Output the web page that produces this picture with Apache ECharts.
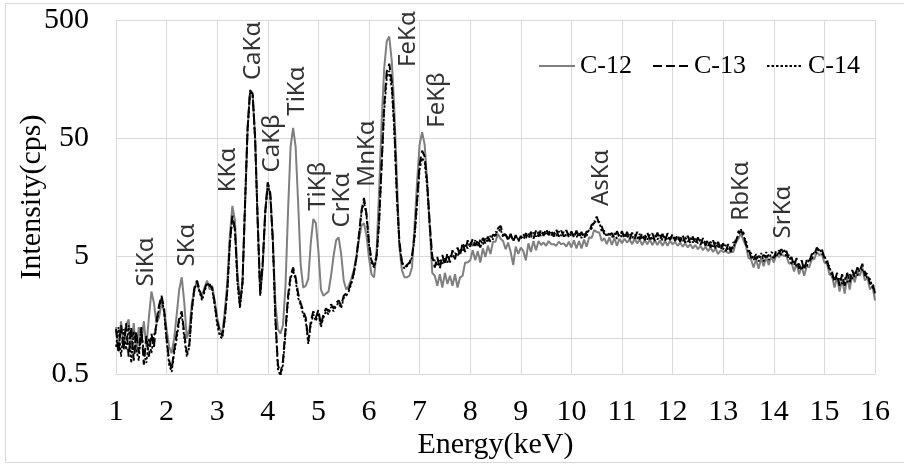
<!DOCTYPE html>
<html><head><meta charset="utf-8">
<script src="https://cdn.jsdelivr.net/npm/echarts@6/dist/echarts.min.js"></script>
<style>html,body{margin:0;padding:0;background:#fff}#c{width:904px;height:466px}</style>
</head><body><div id="c"></div>
<script>
// channel calibration: first channel energy and channel width (keV)
const E_START = 1.0, E_STEP = 0.05;

// Intensity (cps), one value per channel, 1.00 ... 16.00 keV (rows = 1 keV)
const c12 = [
1.25,0.8,1.4,0.85,1.3,1.45,0.8,1.35,0.75,1.25,0.9,1.4,0.85,1.5,2.5,2.0,1.35,1.5,2.0,1.7,
1.2,0.85,0.75,1.0,1.6,2.6,3.3,2.0,1.0,1.2,2.0,2.6,3.0,2.5,2.3,2.7,3.1,2.6,2.8,2.1,
1.5,1.2,1.1,1.7,3.0,7.5,13.3,10,3.6,2.0,3.0,13,58,128,120,50,10,2.4,4.0,12,
21,16,6.8,2.0,1.2,1.1,1.3,2.8,12,42,61,42,14,4.2,2.7,2.8,3.2,6.5,10.3,9.5,
5.5,2.6,2.3,2.4,2.5,3.4,5.0,6.8,7.2,5.2,3.1,2.6,2.8,3.2,3.8,5.0,6.8,9.0,9.5,7.5,
4.8,3.5,3.3,5.5,18,69,194,330,362,225,88,24,6,3.8,3.3,3.3,3.4,4.0,9,21,
44,56,44,21,9,3.6,3.4,2.8,3.5,2.7,3.6,2.9,3.4,2.8,3.5,2.7,3.3,3.4,4.4,4.4,
4.6,5.6,4.6,5.5,4.4,5.8,4.9,6.1,5.2,6.6,6.6,7.7,7.0,6.7,5.7,6.5,5.4,4.2,6.0,5.2,
5.9,5.5,4.6,6.4,5.4,6.7,5.6,6.7,6.2,6.5,6.1,6.7,6.3,6.3,6.1,6.6,6.3,6.4,6.0,6.6,
5.9,6.8,5.8,6.7,5.8,6.9,6.0,7.2,7.1,8.3,8.0,7.9,6.7,7.1,6.3,7.2,6.2,7.1,6.1,7.0,
6.4,7.0,6.5,6.9,6.3,7.0,6.4,6.9,6.2,6.8,6.3,6.9,6.2,6.8,6.2,6.8,6.1,6.7,6.1,6.7,
6.3,6.6,6.1,6.5,6.0,6.4,5.9,6.3,5.8,6.2,5.7,6.1,5.6,6.0,5.5,5.9,5.4,5.8,5.2,5.6,
5.4,5.5,5.3,5.4,5.4,6.5,7.0,7.7,6.8,6.1,4.8,4.7,4.0,4.7,3.9,4.8,4.1,4.9,4.2,5.0,
4.4,5.1,4.9,5.2,5.0,5.0,4.3,4.4,3.7,4.3,3.5,4.1,3.4,4.1,4.0,4.7,4.7,5.4,5.1,5.2,
4.4,4.3,3.5,3.4,2.7,3.3,2.5,3.2,2.4,3.3,2.6,3.5,3.0,3.7,3.4,4.0,3.1,3.3,2.6,2.8,
2.1];
const c13 = [
1.2,0.75,1.3,0.8,1.35,0.7,1.25,0.65,1.15,0.75,1.25,0.6,1.05,0.7,1.1,0.85,1.4,1.9,2.3,1.8,
1.0,0.65,0.55,0.8,1.1,1.5,1.7,1.1,0.75,0.9,1.8,2.7,3.1,2.6,2.2,2.6,3.0,2.8,2.7,2.0,
1.4,1.15,1.05,1.5,2.6,6.5,11,8.5,3.2,1.9,3.0,14,60,126,118,49,10,2.4,4.5,12,
21,17,6.8,1.5,0.6,0.5,0.65,1.2,2.3,3.4,4.0,3.3,2.4,2.0,1.7,1.5,0.95,1.4,1.7,1.5,
1.75,1.3,1.6,1.8,1.7,1.95,1.8,2.0,2.1,1.9,2.3,2.4,2.6,3.0,3.6,4.8,7.5,12,15.5,11.5,
6.5,4.6,4.1,5.0,10,31,95,182,213,150,65,17,6.7,4.5,4.0,4.2,4.4,5.0,7.5,15,
30,39,35,21,9.5,5.0,4.0,4.9,3.9,5.1,4.2,5.3,4.4,5.6,4.7,5.9,5.0,6.5,5.4,6.8,
6.0,7.0,6.1,6.9,5.9,7.1,6.4,7.3,6.6,7.6,7.4,8.6,9.0,7.6,7.6,6.8,7.7,6.6,7.5,6.6,
7.4,6.8,7.8,7.0,8.0,7.0,8.2,7.3,8.4,7.4,8.5,7.5,8.3,7.3,8.4,7.3,8.2,7.3,8.3,7.2,
8.1,7.2,8.2,7.1,8.0,7.0,8.1,7.9,9.2,9.5,10.8,9.3,8.9,7.7,7.9,7.6,7.8,7.1,8.1,7.3,
8.1,7.0,8.0,6.9,7.9,7.0,8.0,6.9,7.8,6.8,7.9,6.9,7.8,6.7,7.9,6.9,7.7,6.7,7.8,6.8,
7.7,6.7,7.6,6.6,7.5,6.5,7.4,6.4,7.3,6.3,7.2,6.2,7.1,6.1,6.9,5.9,6.8,5.8,6.6,5.6,
6.4,5.5,6.3,5.4,6.5,6.5,8.1,8.0,7.9,6.2,5.9,4.8,5.1,4.7,5.0,4.8,5.1,4.9,5.1,5.0,
4.8,5.6,5.2,5.7,5.3,5.5,4.6,4.9,4.1,4.8,3.9,4.6,3.8,4.6,4.4,5.2,5.1,5.9,5.5,5.7,
4.8,4.7,3.8,3.7,3.0,3.6,2.8,3.5,2.8,3.6,3.0,3.8,3.3,4.0,3.7,4.3,3.4,3.6,2.9,3.0,
2.4];
const c14 = [
0.85,1.25,0.7,1.2,0.8,1.3,0.62,1.15,0.8,0.65,1.2,0.75,0.62,1.0,0.75,1.05,1.3,1.8,2.2,1.7,
0.95,0.6,0.52,0.75,1.0,1.4,1.6,1.0,0.7,0.85,1.7,2.6,3.0,2.5,2.1,2.5,2.9,2.9,2.6,1.9,
1.3,1.05,1.0,1.45,2.5,6.2,10.5,8.2,3.0,1.8,2.9,13.5,58,124,116,48,9.5,2.3,4.3,11.5,
20,16,6.5,1.4,0.55,0.48,0.6,1.1,2.1,3.2,3.8,3.1,2.2,1.9,1.6,1.4,0.9,1.3,1.6,1.4,
1.65,1.25,1.5,1.7,1.6,1.85,1.7,1.9,2.0,1.8,2.2,2.3,2.5,2.9,3.5,4.7,7.2,11.5,14.5,11,
6.2,4.4,4.0,4.8,9.5,28,84,160,185,130,57,15.5,6.3,4.4,3.9,4.1,4.3,4.9,7.0,13.5,
27,34,31,19,8.8,4.6,4.6,4.1,4.6,4.3,4.9,4.4,5.1,4.8,5.3,5.0,5.6,5.5,6.2,5.8,
6.6,6.1,6.8,6.0,6.9,6.2,7.1,6.5,7.4,6.9,8.0,7.9,8.5,7.2,7.7,6.9,7.5,6.8,7.4,6.9,
7.0,7.6,7.1,7.7,7.2,7.9,7.3,8.0,7.4,8.1,7.5,8.2,7.5,8.0,7.4,8.1,7.4,8.0,7.3,7.9,
7.3,7.9,7.2,7.8,7.1,7.7,7.4,8.4,8.5,9.9,9.6,9.8,8.0,8.2,7.3,7.9,7.2,7.8,7.0,7.7,
7.2,7.8,7.1,7.7,7.1,7.6,7.0,7.7,6.9,7.6,6.9,7.6,6.8,7.5,6.9,7.5,6.8,7.4,6.8,7.4,
6.9,7.4,6.8,7.3,6.7,7.2,6.6,7.1,6.5,7.0,6.4,6.9,6.3,6.8,6.1,6.6,6.0,6.5,5.8,6.3,
5.7,6.2,5.6,6.1,5.8,7.0,7.4,8.4,7.3,6.8,5.3,5.3,4.6,5.2,4.5,5.3,4.5,5.4,4.6,5.4,
5.2,4.9,5.6,5.1,5.7,4.9,5.1,4.3,4.5,4.1,4.3,3.8,4.2,4.0,4.8,4.6,5.5,5.3,5.8,5.2,
5.1,4.2,4.1,3.3,3.4,3.1,3.3,2.9,3.3,3.0,3.5,3.2,3.7,3.4,3.9,3.8,3.7,3.2,3.2,2.7,
2.6];

const seriesNames = ['C-12', 'C-13', 'C-14'];

// peak annotations: name, energy (keV), label centre height (cps)
const peakNames = ['SiKα','SKα','KKα','CaKα','CaKβ','TiKα','TiKβ','CrKα','MnKα','FeKα','FeKβ','AsKα','RbKα','SrKα'];
const peakE     = [1.59, 2.40, 3.21, 3.71, 4.08, 4.58, 4.99, 5.47, 5.96, 6.77, 7.34, 10.58, 13.35, 14.18];
const peakLblY  = [4.45, 6.2, 26.8, 274, 45, 125, 19.5, 14.9, 37, 345, 105, 23, 17.8, 11.8];

const energies = c12.map((_, i) => +(E_START + i * E_STEP).toFixed(2));
const toPairs = v => v.map((y, i) => [energies[i], y]);

const serif = '"Liberation Serif", "Times New Roman", serif';
const grid = '#d9d9d9';

const chart = echarts.init(document.getElementById('c'), null, {renderer: 'canvas'});
chart.setOption({
  animation: false,
  backgroundColor: '#fff',
  graphic: [{
    type: 'rect', z: -10, silent: true,
    shape: {x: 5.5, y: 3.5, width: 905, height: 459},
    style: {fill: 'none', stroke: grid, lineWidth: 1}
  }],
  grid: {left: 116, right: 29, top: 20, bottom: 92, outerBoundsMode: 'none', containLabel: false},
  legend: {
    data: seriesNames,
    left: 533, top: 48,
    itemWidth: 36, itemHeight: 14, itemGap: 20,
    itemStyle: {opacity: 0},
    textStyle: {fontFamily: serif, fontSize: 26, color: '#000'}
  },
  xAxis: {
    type: 'value', min: 1, max: 16, interval: 1,
    name: 'Energy(keV)', nameLocation: 'middle', nameGap: 56, nameMoveOverlap: false,
    nameTextStyle: {fontFamily: serif, fontSize: 30, color: '#000'},
    axisLine: {show: true, lineStyle: {color: grid}},
    axisTick: {show: false},
    axisLabel: {fontFamily: serif, fontSize: 30, color: '#000', margin: 23},
    splitLine: {show: true, lineStyle: {color: grid, width: 1}}
  },
  yAxis: {
    type: 'log', logBase: 10, min: 0.5, max: 500, interval: 1,
    name: 'Intensity(cps)', nameLocation: 'middle', nameGap: 69, nameRotate: 90, nameMoveOverlap: false,
    nameTextStyle: {fontFamily: serif, fontSize: 30, color: '#000'},
    axisLine: {show: true, lineStyle: {color: grid}},
    axisTick: {show: false},
    axisLabel: {fontFamily: serif, fontSize: 30, color: '#000', margin: 27,
      formatter: v => String(+(+v).toPrecision(1))},
    splitLine: {show: true, lineStyle: {color: grid, width: 1}},
    minorTick: {show: false}, minorSplitLine: {show: false}
  },
  series: [
    {
      name: 'C-12', type: 'line', data: toPairs(c12), symbol: 'none', showSymbol: false,
      lineStyle: {color: '#7f7f7f', width: 2}, itemStyle: {color: '#7f7f7f'}, z: 2,
      markLine: {silent: true, symbol: 'none', z: 1, label: {show: false},
        lineStyle: {color: grid, type: 'solid', width: 1}, data: [{yAxis: 1}]}
    },
    {
      name: 'C-13', type: 'line', data: toPairs(c13), symbol: 'none', showSymbol: false,
      lineStyle: {color: '#000', width: 2, type: [9, 4]}, itemStyle: {color: '#000'}, z: 3
    },
    {
      name: 'C-14', type: 'line', data: toPairs(c14), symbol: 'none', showSymbol: false,
      lineStyle: {color: '#000', width: 1.8, type: [2.5, 2]}, itemStyle: {color: '#000'}, z: 4
    },
    {
      name: 'peaks', type: 'scatter', symbolSize: 0, silent: true, z: 6,
      data: peakNames.map((n, i) => [peakE[i], peakLblY[i], n]),
      label: {
        show: true, position: 'inside', rotate: 90, align: 'center', verticalAlign: 'middle',
        formatter: p => p.data[2],
        fontFamily: '"Noto Sans", "DejaVu Sans", sans-serif', fontSize: 24, color: '#000'
      }
    }
  ]
});
</script>
</body></html>
